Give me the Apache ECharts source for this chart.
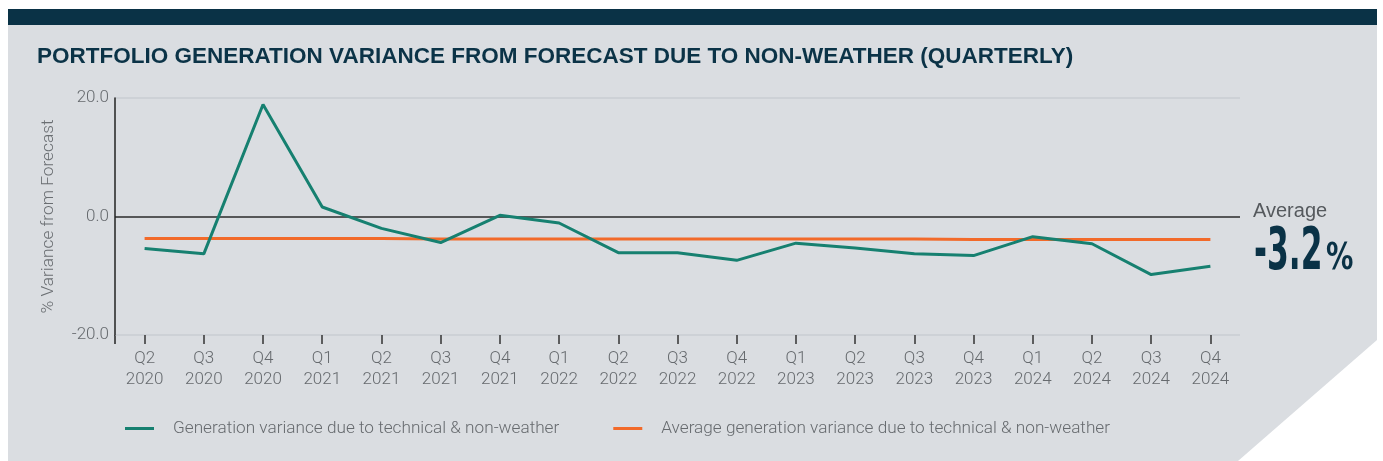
<!DOCTYPE html>
<html>
<head>
<meta charset="utf-8">
<script src="https://cdn.jsdelivr.net/npm/echarts@6/dist/echarts.min.js"></script>
<style>
  html, body { margin: 0; padding: 0; background: #ffffff; }
  #chart { width: 1383px; height: 461px; }
</style>
</head>
<body>
<div id="chart"></div>
<script>
// Trimestres (eixo X)
const categories = [
    'Q2\n2020', 'Q3\n2020', 'Q4\n2020',
    'Q1\n2021', 'Q2\n2021', 'Q3\n2021', 'Q4\n2021',
    'Q1\n2022', 'Q2\n2022', 'Q3\n2022', 'Q4\n2022',
    'Q1\n2023', 'Q2\n2023', 'Q3\n2023', 'Q4\n2023',
    'Q1\n2024', 'Q2\n2024', 'Q3\n2024', 'Q4\n2024'
];

// Variação trimestral (%)
const varianceValues = [
    -5.4, -6.3, 18.9,
    1.6, -2.0, -4.4, 0.2,
    -1.1, -6.1, -6.1, -7.4,
    -4.5, -5.3, -6.3, -6.6,
    -3.4, -4.6, -9.8, -8.4
];

// Linha da média (%)
const averageValues = [
    -3.7, -3.7, -3.7,
    -3.7, -3.7, -3.8, -3.8,
    -3.8, -3.8, -3.8, -3.8,
    -3.8, -3.8, -3.8, -3.9,
    -3.9, -3.9, -3.9, -3.9
];

const yTicks = [-20, 0, 20];

const seriesNames = [
    'Generation variance due to technical & non-weather',
    'Average generation variance due to technical & non-weather'
];

const averageLabel = 'Average';
const averageText = '-3.2';

const chartDom = document.getElementById('chart');
const myChart = echarts.init(chartDom);

const labelFont = 'Roboto, "Liberation Sans", sans-serif';

const option = {
    animation: false,
    title: {
        text: 'PORTFOLIO GENERATION VARIANCE FROM FORECAST DUE TO NON-WEATHER (QUARTERLY)',
        left: 37,
        top: 45,
        padding: 0,
        textStyle: {
            fontFamily: '"Liberation Sans", Arial, sans-serif',
            fontWeight: 'bold',
            fontSize: 22.5,
            color: '#0b3347'
        }
    },
    graphic: [
        {
            type: 'polygon',
            z: -10,
            silent: true,
            shape: { points: [[8, 10], [1377, 10], [1377, 340], [1238, 461], [8, 461]] },
            style: { fill: '#dadde1' }
        },
        {
            type: 'rect',
            z: -9,
            silent: true,
            shape: { x: 8, y: 9, width: 1369, height: 16 },
            style: { fill: '#0a3246' }
        },
        {
            // prolongamento do eixo Y abaixo da grade
            type: 'line',
            silent: true,
            shape: { x1: 115, y1: 335, x2: 115, y2: 344 },
            style: { stroke: '#222', lineWidth: 1.5 }
        },
        {
            type: 'text',
            x: 1253,
            y: 211,
            style: {
                text: averageLabel,
                font: '500 20px "Liberation Sans", Arial, sans-serif',
                fill: '#55595d',
                verticalAlign: 'middle'
            }
        },
        {
            type: 'text',
            x: 1254,
            y: 254,
            scaleX: 0.59,
            style: {
                text: averageText,
                font: 'bold 59px "DejaVu Sans Condensed", "DejaVu Sans", sans-serif',
                fill: '#0a3246',
                verticalAlign: 'middle'
            }
        },
        {
            type: 'text',
            x: 1326,
            y: 259,
            scaleX: 0.8,
            style: {
                text: '%',
                font: 'bold 38px "DejaVu Sans Condensed", "DejaVu Sans", sans-serif',
                fill: '#0a3246',
                verticalAlign: 'middle'
            }
        }
    ],
    legend: {
        left: 125,
        top: 420,
        padding: 0,
        itemWidth: 29,
        itemHeight: 3,
        itemGap: 54,
        icon: 'rect',
        data: seriesNames,
        textStyle: {
            fontFamily: labelFont,
            fontWeight: 300,
            fontSize: 17.2,
            color: '#666a6e',
            padding: [0, 0, 0, 14]
        }
    },
    grid: {
        left: 115,
        right: 143,
        top: 98,
        bottom: 126
    },
    xAxis: {
        type: 'category',
        data: categories,
        boundaryGap: true,
        axisLine: { show: false, onZero: false },
        axisTick: {
            show: true,
            alignWithLabel: true,
            length: 9,
            lineStyle: { color: '#333', width: 1.5 }
        },
        axisLabel: {
            interval: 0,
            margin: 13,
            fontFamily: labelFont,
            fontWeight: 300,
            fontSize: 17,
            lineHeight: 21,
            color: '#666a6e'
        }
    },
    yAxis: {
        type: 'value',
        min: yTicks[0],
        max: yTicks[yTicks.length - 1],
        interval: 20,
        name: '% Variance from Forecast',
        nameLocation: 'middle',
        nameGap: 58,
        nameRotate: 90,
        nameTextStyle: {
            fontFamily: labelFont,
            fontWeight: 300,
            fontSize: 17.3,
            color: '#6a6e72'
        },
        axisLine: { show: true, lineStyle: { color: '#222', width: 1.5 } },
        axisTick: { show: false },
        axisLabel: {
            margin: 6,
            fontFamily: labelFont,
            fontWeight: 300,
            fontSize: 17,
            color: '#666a6e',
            formatter: function (v) { return v.toFixed(1); }
        },
        splitLine: {
            show: true,
            lineStyle: { color: ['#c9cdd2', '#2a2a2a', '#c9cdd2'], width: 1.5 }
        }
    },
    series: [
        {
            name: seriesNames[0],
            type: 'line',
            data: varianceValues,
            symbol: 'none',
            z: 3,
            lineStyle: { color: '#168070', width: 3 },
            itemStyle: { color: '#168070' }
        },
        {
            name: seriesNames[1],
            type: 'line',
            data: averageValues,
            symbol: 'none',
            z: 2,
            lineStyle: { color: '#f26a2a', width: 3 },
            itemStyle: { color: '#f26a2a' }
        }
    ]
};

myChart.setOption(option);
</script>
</body>
</html>
